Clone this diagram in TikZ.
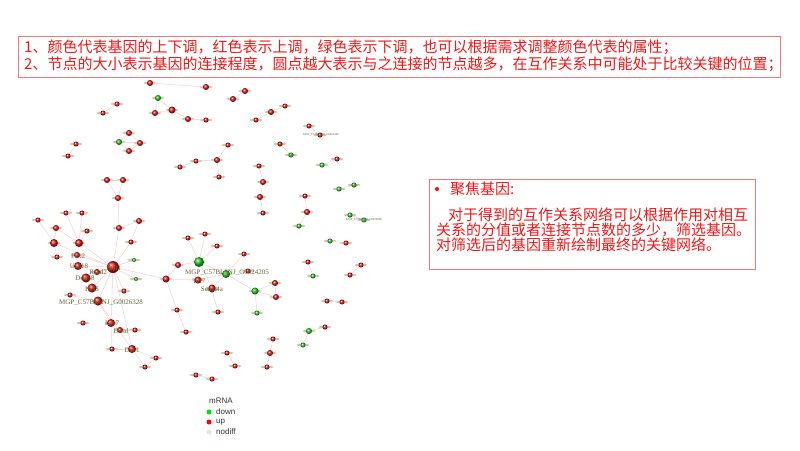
\documentclass[tikz,border=0pt]{standalone}
\usepackage{fontspec}
\newfontfamily\cjk{Noto Sans CJK SC}
\newfontfamily\lserif{Liberation Serif}
\newfontfamily\lsans{Liberation Sans}
\pgfdeclarelayer{bg}\pgfsetlayers{bg,main}
\definecolor{txtred}{HTML}{F01818}
\definecolor{boxred}{HTML}{F07878}
\definecolor{edgepink}{HTML}{F0D2D2}
\definecolor{lblol}{HTML}{6B6535}
\definecolor{fuzz}{HTML}{A8946A}
\definecolor{upred}{HTML}{DD1010}
\definecolor{dngreen}{HTML}{22C022}
\definecolor{nodiff}{HTML}{D4EED0}
\begin{document}
\begin{tikzpicture}[x=1pt,y=-1pt,
  redball/.style={circle,inner sep=0pt,shading=ball,ball color=upred},
  greenball/.style={circle,inner sep=0pt,shading=ball,ball color=dngreen},
  edge/.style={draw=edgepink,line width=0.5pt},
  lbl/.style={text=lblol,font=\lserif\fontsize{7}{8}\selectfont,inner sep=0pt},
  tiny/.style={text=lblol,font=\lserif\fontsize{3}{3.5}\selectfont,inner sep=0pt},
  toptext/.style={anchor=base west,text=txtred,font=\cjk\fontsize{15}{16}\selectfont,inner sep=0pt},
  rtext/.style={anchor=base west,text=txtred,font=\cjk\fontsize{15}{16}\selectfont,inner sep=0pt},
  legtext/.style={anchor=west,text=black!80,font=\lsans\fontsize{8}{9}\selectfont,inner sep=0pt},
  legdot/.style={circle,inner sep=0pt,minimum size=5pt}]
\useasboundingbox (0,0) rectangle (800,450);
\begin{pgfonlayer}{bg}
\fill[white] (0,0) rectangle (800,450);
\end{pgfonlayer}

% ---- top box
\node[draw=boxred,line width=0.8pt,minimum width=762pt,minimum height=41pt,anchor=north west,inner sep=0pt] (topbox) at (18,36) {};
\node[toptext] (line1) at (24,52.5) {1、颜色代表基因的上下调，红色表示上调，绿色表示下调，也可以根据需求调整颜色代表的属性；};
\node[toptext] (line2) at (24,69.5) {2、节点的大小表示基因的连接程度，圆点越大表示与之连接的节点越多，在互作关系中可能处于比较关键的位置；};

% ---- right box
\node[draw=boxred,line width=0.8pt,minimum width=326pt,minimum height=90pt,anchor=north west,inner sep=0pt] (rbox) at (429,179) {};
\node[circle,fill=txtred,inner sep=0pt,minimum size=4.2pt] (bul) at (437,189) {};
\node[rtext] (head) at (450,194.5) {聚焦基因:};
\node[rtext] (p1) at (448,220.5) {对于得到的互作关系网络可以根据作用对相互};
\node[rtext] (p2) at (436,235.5) {关系的分值或者连接节点数的多少，筛选基因。};
\node[rtext] (p3) at (436,250.5) {对筛选后的基因重新绘制最终的关键网络。};

% ---- network nodes: name/x/y/style/size
\foreach \n/\x/\y/\c/\s in {
 a1/150/83/redball/6, a2/206/87/redball/6, a3/245/91/redball/6, a4/233/99/redball/6,
 b1/158/98/greenball/6, b2/172/110/redball/7, b3/155/113/redball/6, b4/188/119/redball/6, b5/206/120/redball/5,
 c1/117/104/redball/5, c2/103/113/redball/5,
 e1/285/106/redball/5, e2/271/112/redball/6, e3/256/120/redball/5,
 f1/129/133/redball/6, f2/119/142/greenball/6, f3/140/143/redball/6, f4/129/151/redball/6,
 g1/76/144/redball/5, g2/68/156/redball/5,
 h1/228/145/redball/5, h2/217/160/redball/6, h3/196/161/redball/5, h4/180/167/redball/5, h5/219/177/redball/5,
 i1/107/180/redball/6, i2/123/180/redball/6, i3/118/198/redball/6,
 j1/309/126/redball/5, j2/320/135/redball/5, k1/280/144/redball/5, k2/291/155/greenball/5,
 l1/337/159/redball/5, l2/322/165/greenball/5,
 m1/259/166/redball/5, m2/263/182/redball/6, m3/260/197/redball/6, m4/263/213/redball/5,
 o1/305/196/redball/5, o2/307/212/redball/6, o3/299/226/greenball/5,
 q3/354/185/greenball/5, q4/339/189/greenball/5, q1/350/215/greenball/5, q2/364/220/greenball/5,
 s1/119/228/redball/6, s2/139/221/redball/6, s3/131/242/redball/5,
 t1/38/220/redball/5, t2/66/213/redball/5, t3/82/213/redball/5, t4/56/228/redball/6,
 t5/54/243/redball/8, t6/79/243/redball/8, t7/87/231/redball/5, t8/57/257/redball/5,
 t9/77/255/redball/6, t10/78/266/redball/8, hub/113/267/redball/12, t11/97/272/redball/6,
 t12/86/278/redball/9, t13/92/288/redball/9, t14/70/295/redball/5,
 t15/134/260/greenball/4, t16/136/279/greenball/4, t17/124/291/redball/5, t18/166/279/redball/7,
 mgp/98/301/redball/9,
 u1/83/323/redball/5, u2/111/323/redball/8, u3/120/330/redball/6, u4/135/330/redball/5,
 u5/112/349/redball/5, u6/132/349/redball/8, u7/156/358/redball/5, u8/145/367/redball/5,
 v1/177/310/redball/5, v2/186/332/redball/5, w1/212/290/redball/5, w2/218/312/redball/5,
 x1/227/353/redball/5, x2/235/366/redball/5, y1/196/375/redball/5, y2/212/379/redball/5,
 G1/199/262/greenball/10, G2/226/274/greenball/8,
 r1/188/238/redball/5, r2/205/234/redball/5, r3/217/246/redball/5, r4/178/265/redball/6,
 r5/198/280/redball/7, r6/244/254/redball/5, r7/248/271/redball/5, r8/212/288/redball/7,
 G3/255/291/greenball/7, r9/275/283/redball/6, r10/276/297/redball/6, G4/257/313/greenball/5,
 z1/330/241/greenball/5, z2/346/243/redball/5, z3/308/262/redball/5, z4/313/276/greenball/5,
 z5/361/265/redball/5, z6/350/275/redball/5, z7/327/301/redball/5, z8/342/302/redball/5,
 z9/309/331/greenball/6, z10/325/327/redball/5, z11/303/345/greenball/5,
 z12/273/339/redball/5, z13/270/353/redball/6, z14/267/367/redball/5}
{
  \begin{pgfonlayer}{bg}
    \fill[fuzz,opacity=0.55] (\x,\y) ellipse (6.5 and 1.4);
  \end{pgfonlayer}
  \node[\c,minimum size=\s pt] (\n) at (\x,\y) {};
}

% ---- edges
\begin{pgfonlayer}{bg}
\foreach \p/\q in {a1/a2,a3/a4,b1/b2,b1/b3,b3/b2,b2/b4,b4/b5,c1/c2,
  f1/f2,f1/f3,f2/f4,f3/f4,f2/f3,g1/g2,h1/h2,h2/h3,h3/h4,h2/h5,
  i1/i2,i1/i3,i2/i3,i3/s1,s1/s2,s2/s3,s1/hub,s3/hub,
  e1/e2,e2/e3,j1/j2,k1/k2,l1/l2,m1/m2,m2/m3,m3/m4,o1/o2,o2/o3,q3/q4,q1/q2,
  t1/t5,t2/t6,t3/t6,t4/t6,t4/t5,t7/t6,t8/t5,t5/hub,t6/hub,t9/hub,t10/hub,t11/hub,t12/hub,
  t13/hub,mgp/hub,t15/hub,t16/hub,t17/hub,t18/hub,u2/hub,u6/hub,
  mgp/t14,mgp/u2,mgp/u6,u2/u5,u5/u6,u6/u7,u6/u8,u7/u8,u3/u4,
  t18/v1,v1/v2,w1/w2,x1/x2,y1/y2,t18/r5,
  G1/r1,G1/r2,G1/r3,G1/r4,G1/G2,G1/r5,r4/t18,r5/G2,G2/r6,G2/r8,G2/G3,G1/r8,
  G3/r9,G3/r10,r9/r10,G3/G4,
  z1/z2,z3/z4,z5/z6,z7/z8,z9/z10,z9/z11,z12/z13,z13/z14}
  \draw[edge] (\p) -- (\q);
\end{pgfonlayer}

% ---- node labels
\node[lbl] (lmgp1) at (101,303) {MGP\_C57BL6NJ\_G0026328};
\node[lbl] (lmgp2) at (227,273) {MGP\_C57BL6NJ\_G0024205};
\node[lbl] (lhub) at (114,268) {Stat1};
\node[lbl] (lt9) at (78,256) {Pex2};
\node[lbl] (lt10) at (79,267) {Usp18};
\node[lbl] (lt12) at (85,278) {Ddx58};
\node[lbl] (lt11) at (98,272) {Rsad2};
\node[lbl] (lt13) at (92,289) {Ifi35};
\node[lbl] (lr5) at (199,281) {Tcf7};
\node[lbl] (lr8) at (212,289) {Sema4a};
\node[lbl] (lu2) at (112,324) {Lgs7};
\node[lbl] (lu3) at (121,331) {Dusd};
\node[lbl] (lu6) at (132,350) {Dab1};
\node[tiny] (lj2) at (321,135) {MGP\_C57BL6NJ\_G0024406};
\node[tiny] (lk1) at (280,144) {Sdc4};
\node[tiny] (lk2) at (291,155) {Ahr4};
\node[tiny] (lq3) at (354,185) {Aldh1};
\node[tiny] (lq2) at (364,220) {MGP\_C57BL6NJ\_G0026998};

% ---- legend
\node[anchor=center,text=black!80,font=\lsans\fontsize{8}{9}\selectfont,inner sep=0pt] (legt) at (221,401) {mRNA};
\node[legdot,fill=green!90!black] (ld1) at (209,412) {};
\node[legtext] (lt1) at (216,412) {down};
\node[legdot,fill=red] (ld2) at (209,422) {};
\node[legtext] (lt2) at (216,422) {up};
\node[legdot,fill=nodiff] (ld3) at (209,432) {};
\node[legtext] (lt3) at (216,432) {nodiff};
\end{tikzpicture}
\end{document}
